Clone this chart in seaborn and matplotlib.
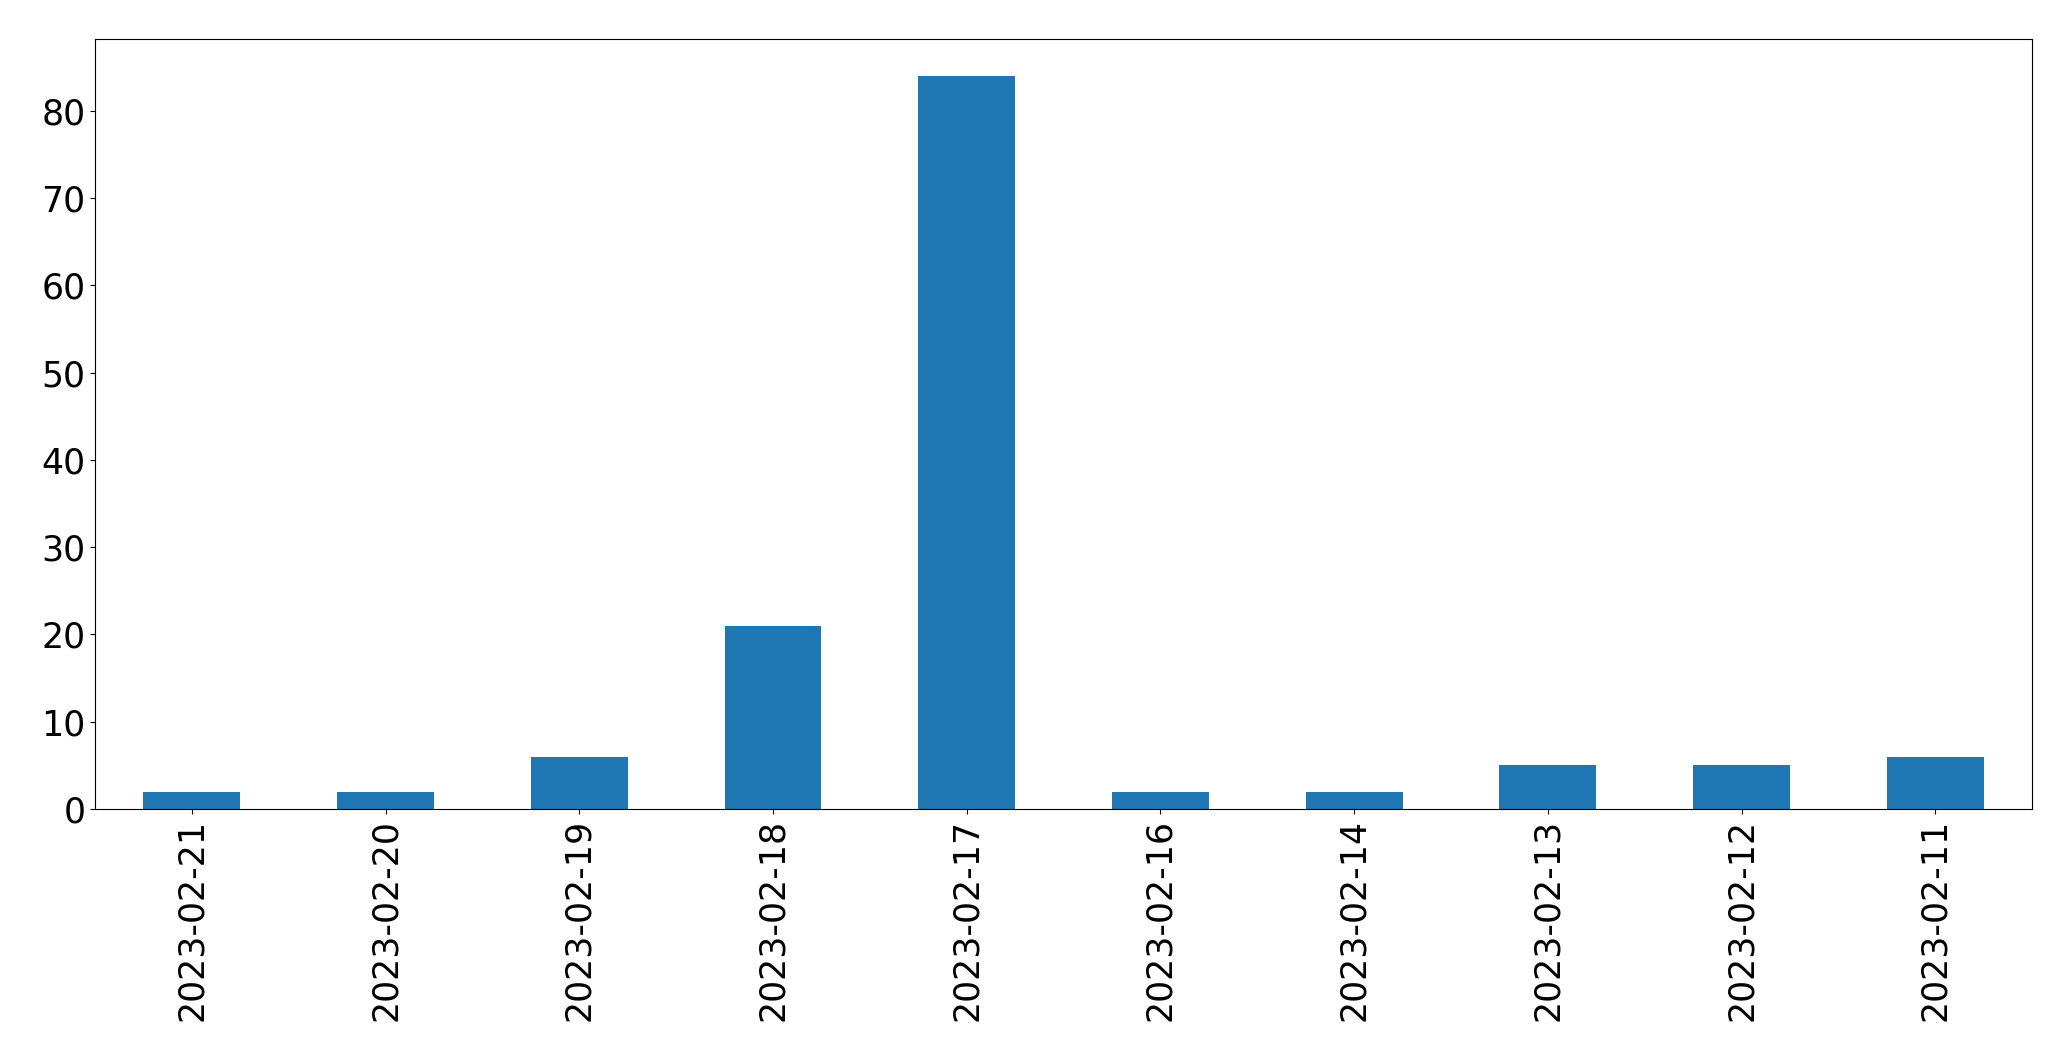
import matplotlib
matplotlib.use('Agg')
import matplotlib.pyplot as plt
import pandas as pd
import seaborn as sns

# Data
dates = ['2023-02-21', '2023-02-20', '2023-02-19', '2023-02-18', '2023-02-17',
         '2023-02-16', '2023-02-14', '2023-02-13', '2023-02-12', '2023-02-11']
counts = [2, 2, 6, 21, 84, 2, 2, 5, 5, 6]

df = pd.DataFrame({'date': dates, 'count': counts})

fig = plt.figure(figsize=(20.71, 10.61), dpi=100)
ax = fig.add_axes([0.0459, 0.2375, 0.9353, 0.7257])

sns.barplot(data=df, x='date', y='count', order=dates, ax=ax,
            color='#1f77b4', saturation=1, width=0.5)

ax.set_xlim(-0.5, len(dates) - 0.5)
ax.set_ylim(0, max(counts) * 1.05)
ax.set(xlabel='', ylabel='')
ax.tick_params(axis='both', labelsize=25)
ax.tick_params(axis='x', labelrotation=90)

fig.savefig('out.png', dpi=100)
